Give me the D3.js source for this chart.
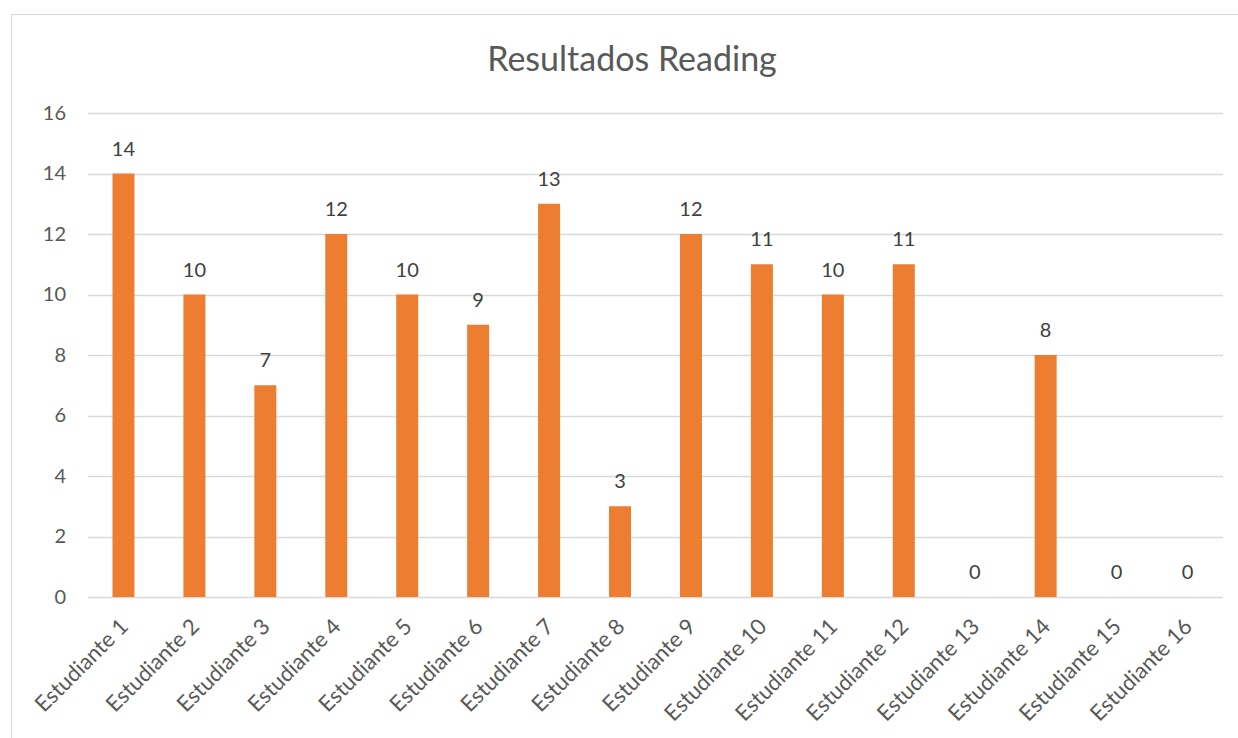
<!DOCTYPE html>
<meta charset="utf-8">
<script src="https://d3js.org/d3.v7.min.js"></script>
<style>
  body { margin: 0; background: #fff; }
  text { font-family: Lato, "Open Sans", sans-serif; }
</style>
<div id="chart"></div>
<script>

// data
var students = ["Estudiante 1", "Estudiante 2", "Estudiante 3", "Estudiante 4", "Estudiante 5",
  "Estudiante 6", "Estudiante 7", "Estudiante 8", "Estudiante 9", "Estudiante 10",
  "Estudiante 11", "Estudiante 12", "Estudiante 13", "Estudiante 14", "Estudiante 15", "Estudiante 16"];
var scores = [14, 10, 7, 12, 10, 9, 13, 3, 12, 11, 10, 11, 0, 8, 0, 0];
var yTicks = [0, 2, 4, 6, 8, 10, 12, 14, 16];

var W = 1238, H = 738;
var margin = {top: 113, right: 15, bottom: 141, left: 88};

var svg = d3.select("#chart").append("svg")
  .attr("width", W)
  .attr("height", H);

// chart frame (partly cut off at right and bottom)
svg.append("rect")
  .attr("x", 11.5).attr("y", 14.5)
  .attr("width", W).attr("height", H)
  .attr("fill", "none")
  .attr("stroke", "#d9d9d9")
  .attr("stroke-width", 1);

var x = d3.scaleBand()
  .domain(students)
  .range([margin.left, W - margin.right])
  .paddingInner(0.69)
  .paddingOuter(0.345);

var y = d3.scaleLinear()
  .domain([0, 16])
  .range([H - margin.bottom, margin.top]);

// gridlines
svg.append("g")
  .selectAll("line")
  .data(yTicks)
  .join("line")
    .attr("x1", margin.left)
    .attr("x2", W - margin.right)
    .attr("y1", function(d) { return Math.round(y(d)) + 0.5; })
    .attr("y2", function(d) { return Math.round(y(d)) + 0.5; })
    .attr("stroke", "#d9d9d9")
    .attr("stroke-width", 1.3);

// y axis labels
var yAxis = svg.append("g")
  .attr("transform", "translate(" + margin.left + ",0)")
  .call(d3.axisLeft(y).tickValues(yTicks).tickSize(0).tickPadding(22));
yAxis.select(".domain").remove();
yAxis.selectAll("text")
  .style("font-size", "20px")
  .attr("fill", "#595959");

// bars
svg.append("g")
  .selectAll("rect")
  .data(scores)
  .join("rect")
    .attr("x", function(d, i) { return x(students[i]); })
    .attr("y", function(d) { return y(d); })
    .attr("width", x.bandwidth())
    .attr("height", function(d) { return y(0) - y(d); })
    .attr("fill", "#ed7d31");

// value labels
svg.append("g")
  .selectAll("text")
  .data(scores)
  .join("text")
    .attr("x", function(d, i) { return x(students[i]) + x.bandwidth() / 2; })
    .attr("y", function(d) { return y(d) - 18; })
    .attr("text-anchor", "middle")
    .style("font-size", "20px")
    .attr("fill", "#404040")
    .text(function(d) { return d; });

// x axis labels
var xAxis = svg.append("g")
  .attr("transform", "translate(0," + y(0) + ")")
  .call(d3.axisBottom(x).tickSize(0).tickPadding(0));
xAxis.select(".domain").remove();
xAxis.selectAll("text")
  .style("font-size", "22px")
  .attr("fill", "#595959")
  .attr("text-anchor", "end")
  .attr("dy", 0)
  .attr("transform", "translate(6,31) rotate(-45)");

// title
svg.append("text")
  .attr("x", 632)
  .attr("y", 71)
  .attr("text-anchor", "middle")
  .style("font-size", "34px")
  .attr("fill", "#595959")
  .text("Resultados Reading");

</script>
